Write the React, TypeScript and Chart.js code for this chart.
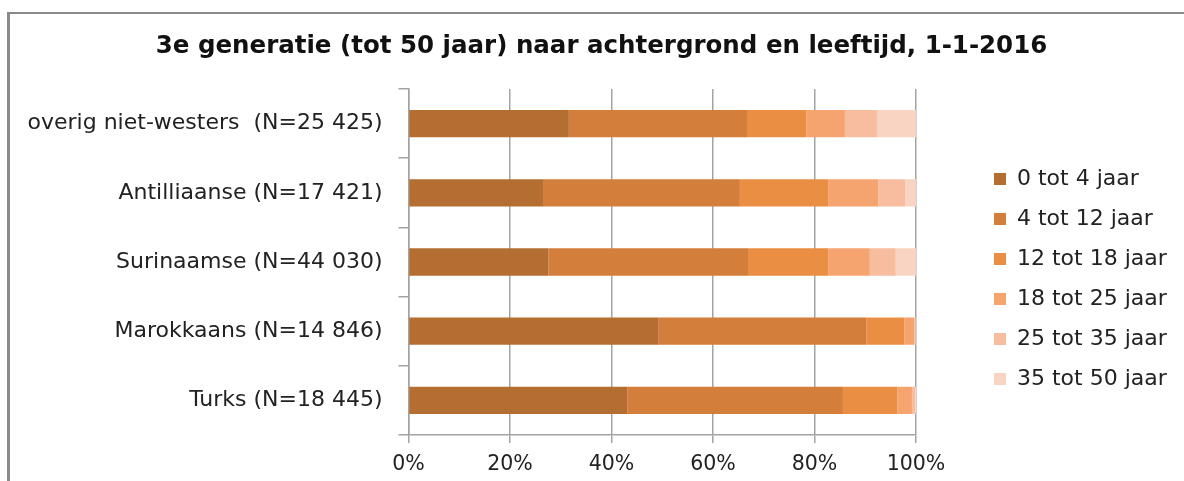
import React, { useEffect, useRef } from 'react';
import { Chart, registerables } from 'chart.js';

Chart.register(...registerables);

const titleText = '3e generatie (tot 50 jaar) naar achtergrond en leeftijd, 1-1-2016';
const categories = [
  'overig niet-westers  (N=25 425)',
  'Antilliaanse (N=17 421)',
  'Surinaamse (N=44 030)',
  'Marokkaans (N=14 846)',
  'Turks (N=18 445)',
];
const seriesNames = ['0 tot 4 jaar', '4 tot 12 jaar', '12 tot 18 jaar', '18 tot 25 jaar', '25 tot 35 jaar', '35 tot 50 jaar'];
const age0to4 = [31.6, 26.5, 27.6, 49.3, 43.1];
const age4to12 = [35.1, 38.8, 39.3, 40.9, 42.5];
const age12to18 = [11.7, 17.4, 15.8, 7.5, 10.7];
const age18to25 = [7.6, 9.9, 8.2, 2.0, 2.9];
const age25to35 = [6.3, 5.3, 5.1, 0.2, 0.6];
const age35to50 = [7.7, 2.1, 4.0, 0.1, 0.2];
const seriesValues = [age0to4, age4to12, age12to18, age18to25, age25to35, age35to50];
const seriesColors = ['#B46E32', '#D37E3A', '#EA8E43', '#F6A46F', '#F8BC9E', '#F9D4C2'];
const xTickValues = [0, 20, 40, 60, 80, 100];

const FONT = "'DejaVu Sans', 'Open Sans', sans-serif";
const F_TITLE = 24.5;
const F_CAT = 22;
const F_LEG = 22;
const F_TICK = 20.5;
const LEG_PAD = 40 - F_LEG;
const LEG_BOX_LEFT = 994;
const LEG_FIRST_CENTER = 179;
const TITLE_CENTER = 601.5;
const GRID = '#a3a3a3';

const boxPlacement = {
  id: 'boxPlacement',
  afterLayout(chart: any) {
    const lg = chart.legend;
    if (lg) {
      const colH = seriesNames.length * (F_LEG + LEG_PAD);
      const y0 = LEG_FIRST_CENTER - F_LEG / 2;
      lg.left = LEG_BOX_LEFT - LEG_PAD;
      lg.right = chart.width;
      lg.width = lg.right - lg.left;
      lg.top = 0;
      lg.bottom = 2 * y0 - LEG_PAD + colH;
      lg.height = lg.bottom - lg.top;
    }
    const tb = chart.titleBlock;
    if (tb) {
      const half = Math.min(TITLE_CENTER, chart.width - TITLE_CENTER);
      tb.left = TITLE_CENTER - half;
      tb.right = TITLE_CENTER + half;
      tb.width = tb.right - tb.left;
    }
  },
};

export default function App() {
  const ref = useRef<HTMLCanvasElement>(null);
  useEffect(() => {
    if (!ref.current) return;
    const chart = new Chart(ref.current, {
      type: 'bar',
      data: {
        labels: categories,
        datasets: seriesNames.map((name, i) => ({
          label: name,
          data: seriesValues[i],
          backgroundColor: seriesColors[i],
          borderWidth: 0,
          categoryPercentage: 1,
          barPercentage: 0.395,
        })),
      },
      options: {
        indexAxis: 'y',
        responsive: false,
        animation: false,
        events: [],
        layout: { padding: { left: 0, right: 118, top: 0, bottom: 0 } },
        plugins: {
          title: {
            display: true,
            text: titleText,
            color: '#111',
            font: { family: FONT, size: F_TITLE, weight: 'bold' },
            padding: { top: 32, bottom: 27.6 },
          },
          legend: {
            position: 'right',
            maxWidth: 150,
            labels: {
              color: '#222',
              font: { family: FONT, size: F_LEG },
              boxWidth: 12,
              boxHeight: 12,
              padding: LEG_PAD,
            },
          },
          tooltip: { enabled: false },
        },
        scales: {
          x: {
            stacked: true,
            min: 0,
            max: 100,
            afterBuildTicks: (s: any) => {
              s.ticks = xTickValues.map((v) => ({ value: v }));
            },
            afterFit: (s: any) => {
              s.height = 46;
            },
            ticks: {
              color: '#222',
              font: { family: FONT, size: F_TICK },
              padding: 9,
              callback: (v: any) => v + '%',
              maxRotation: 0,
            },
            grid: { color: GRID, lineWidth: 1.5, tickLength: 8, drawTicks: true },
            border: { display: true, color: GRID, width: 1.5 },
          },
          y: {
            stacked: true,
            afterFit: (s: any) => {
              s.width = 408.5;
            },
            ticks: {
              color: '#222',
              font: { family: FONT, size: F_CAT },
              padding: 16,
            },
            grid: { color: GRID, lineWidth: 1.5, drawOnChartArea: false, drawTicks: true, tickLength: 10, offset: true },
            border: { display: true, color: GRID, width: 1.5 },
          },
        },
      },
      plugins: [boxPlacement],
    });
    return () => chart.destroy();
  }, []);

  return (
    <div style={{ position: 'fixed', left: 0, top: 0, width: 1184, height: 481, overflow: 'hidden', background: '#fff' }}>
      <div
        style={{
          position: 'absolute',
          left: 7,
          top: 12,
          width: 1200,
          height: 500,
          borderTop: '2px solid #8a8a8a',
          borderLeft: '3px solid #8a8a8a',
          pointerEvents: 'none',
        }}
      />
      <canvas ref={ref} width={1184} height={481} style={{ position: 'absolute', left: 0, top: 0, display: 'block' }} />
    </div>
  );
}
